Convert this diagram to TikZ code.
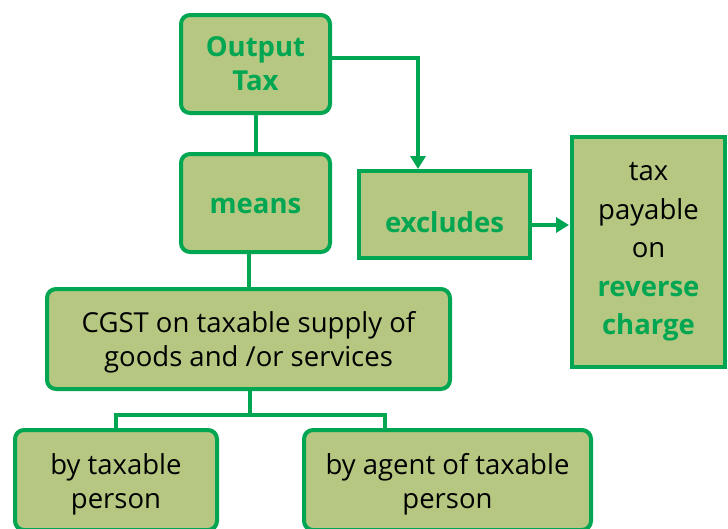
\documentclass[tikz,border=0pt]{standalone}
\usepackage{fontspec}
\setmainfont{Open Sans}
\usetikzlibrary{arrows.meta}
\definecolor{gstgreen}{RGB}{0,166,81}
\definecolor{gstfill}{RGB}{181,199,128}
\tikzset{
  box/.style={draw=gstgreen, fill=gstfill, line width=4pt, inner sep=0pt},
  roundbox/.style={box, rounded corners=9pt},
  squarebox/.style={box},
  txt/.style={align=center, inner sep=0pt, text=black,
    font=\fontsize{27.5}{34}\selectfont},
  link/.style={draw=gstgreen, line width=4pt},
  arrowlink/.style={link, -{Triangle[length=13pt,width=15pt]}}
}
\newcommand{\keyword}[1]{\textcolor{gstgreen}{\bfseries #1}}
\begin{document}
\begin{tikzpicture}[x=1pt,y=-1pt]
  \useasboundingbox (0,0) rectangle (728,528);
  \clip (0,0) rectangle (728,528);

  % boxes, each with its text set as a centred label
  \node[roundbox, minimum width=149pt, minimum height=98pt,
        label={[txt]center:\keyword{Output}\\\keyword{Tax}}] (out) at (255.5,64) {};
  \node[roundbox, minimum width=149pt, minimum height=98pt,
        label={[txt, yshift=-3pt]center:\keyword{means}}] (means) at (255.5,203) {};
  \node[squarebox, minimum width=171pt, minimum height=87pt,
        label={[txt, yshift=-8pt]center:\keyword{excludes}}] (excl) at (444.5,214.5) {};
  \node[squarebox, minimum width=153pt, minimum height=230pt,
        label={[txt, font=\fontsize{27.5}{38.5}\selectfont]center:tax\\payable\\on\\\keyword{reverse}\\\keyword{charge}}]
        (rc) at (648.5,252) {};
  \node[roundbox, minimum width=403pt, minimum height=100pt,
        label={[txt, yshift=-3.5pt]center:CGST on taxable supply of\\goods and /or services}]
        (cgst) at (248.5,339) {};
  \node[roundbox, minimum width=202pt, minimum height=100pt,
        label={[txt, yshift=-4pt]center:by taxable\\person}] (tp) at (116,480) {};
  \node[roundbox, minimum width=287pt, minimum height=100pt,
        label={[txt, yshift=-4pt]center:by agent of taxable\\person}] (ag) at (447.5,480) {};

  % tree connectors
  \draw[link] (out.south) -- (means.north);
  \draw[link] (means.south -| cgst.north) -- (cgst.north);
  \coordinate (bar) at (250,415);
  \coordinate (rjoin) at (385,415);
  \draw[link] (cgst.south -| bar) -- (bar);
  \draw[link] (tp.north) |- (rjoin) -- (rjoin |- ag.north);

  % arrows to the exclusion
  \coordinate (bend) at (418,58);
  \draw[arrowlink] (out.east |- bend) -- (bend) -- (bend |- excl.north);
  \coordinate (row) at (0,225);
  \draw[arrowlink] (excl.east |- row) -- ([xshift=-1pt]rc.west |- row);
\end{tikzpicture}
\end{document}
